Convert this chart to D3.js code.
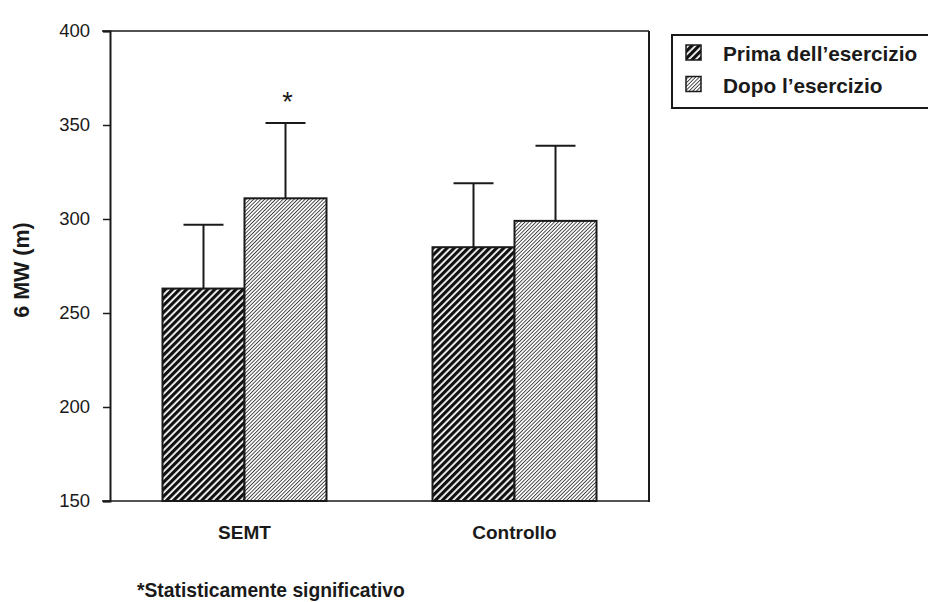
<!DOCTYPE html>
<html>
<head>
<meta charset="utf-8">
<script src="https://cdn.jsdelivr.net/npm/d3@7"></script>
<style>
  body { margin: 0; background: #fff; }
  svg { display: block; font-family: "Liberation Sans", Arial, Helvetica, sans-serif; }
</style>
</head>
<body>
<svg id="chart" width="928" height="602"></svg>
<script>
// values
var categories = ["SEMT", "Controllo"];
var series = ["Prima dell\u2019esercizio", "Dopo l\u2019esercizio"];
var prima = [263, 285];
var primaErr = [34, 34];
var dopo = [311, 299];
var dopoErr = [40, 40];
var dopoSignificant = [true, false];
var yTicks = [150, 200, 250, 300, 350, 400];
var footnote = "*Statisticamente significativo";
var yTitle = "6 MW (m)";

var svg = d3.select("#chart");
var ink = "#1a1a1a";

var plot = {left: 110, right: 649, top: 31, bottom: 501};

var y = d3.scaleLinear().domain([150, 400]).range([plot.bottom, plot.top]);
var x0 = d3.scaleBand().domain(categories).range([plot.left, plot.right])
    .paddingInner(0.3926).paddingOuter(0.1944);
var x1 = d3.scaleBand().domain(series).range([0, x0.bandwidth()]);

// hatch patterns
var defs = svg.append("defs");
var pDark = defs.append("pattern")
    .attr("id", "hatch-dark")
    .attr("patternUnits", "userSpaceOnUse")
    .attr("width", 5).attr("height", 5)
    .attr("patternTransform", "rotate(45)");
pDark.append("rect").attr("width", 5).attr("height", 5).attr("fill", "#fff");
pDark.append("rect").attr("width", 3.2).attr("height", 5).attr("fill", "#111");

var pLight = defs.append("pattern")
    .attr("id", "hatch-light")
    .attr("patternUnits", "userSpaceOnUse")
    .attr("width", 2.6).attr("height", 2.6)
    .attr("patternTransform", "rotate(45)");
pLight.append("rect").attr("width", 2.6).attr("height", 2.6).attr("fill", "#fff");
pLight.append("rect").attr("width", 0.9).attr("height", 2.6).attr("fill", "#3a3a3a");

var fills = ["url(#hatch-dark)", "url(#hatch-light)"];

var rows = categories.map(function(c, i) {
    return [
        {cat: c, s: series[0], v: prima[i], e: primaErr[i], sig: false, k: 0},
        {cat: c, s: series[1], v: dopo[i], e: dopoErr[i], sig: dopoSignificant[i], k: 1}
    ];
});
var bars = [].concat.apply([], rows);

// error bars (upward only)
var err = svg.append("g").attr("stroke", ink).attr("stroke-width", 2);
bars.forEach(function(d) {
    var cx = x0(d.cat) + x1(d.s) + x1.bandwidth() / 2;
    err.append("line")
        .attr("x1", cx).attr("x2", cx)
        .attr("y1", y(d.v)).attr("y2", y(d.v + d.e));
    err.append("line")
        .attr("x1", cx - 20).attr("x2", cx + 20)
        .attr("y1", y(d.v + d.e)).attr("y2", y(d.v + d.e));
    if (d.sig) {
        svg.append("text")
            .attr("x", cx + 2).attr("y", y(d.v + d.e) - 12)
            .attr("text-anchor", "middle")
            .attr("font-size", 27)
            .attr("fill", ink)
            .text("*");
    }
});

// bars
svg.append("g").selectAll("rect")
    .data(bars)
    .enter().append("rect")
        .attr("x", function(d) { return x0(d.cat) + x1(d.s); })
        .attr("y", function(d) { return y(d.v); })
        .attr("width", x1.bandwidth())
        .attr("height", function(d) { return y(150) - y(d.v); })
        .attr("fill", function(d) { return fills[d.k]; })
        .attr("stroke", ink)
        .attr("stroke-width", 2);

// frame
var frame = svg.append("g").attr("fill", "none").attr("stroke", ink);
frame.append("line").attr("x1", plot.left - 8).attr("x2", plot.right).attr("y1", plot.top).attr("y2", plot.top).attr("stroke-width", 1.5);
frame.append("line").attr("x1", plot.left - 8).attr("x2", plot.right).attr("y1", plot.bottom).attr("y2", plot.bottom).attr("stroke-width", 1.5);
frame.append("line").attr("x1", plot.right).attr("x2", plot.right).attr("y1", plot.top).attr("y2", plot.bottom + 1).attr("stroke-width", 2);

// y axis
var yAxis = svg.append("g")
    .attr("transform", "translate(" + plot.left + ",0)")
    .call(d3.axisLeft(y).tickValues(yTicks).tickSize(7).tickPadding(13));
yAxis.select(".domain").attr("stroke", ink).attr("stroke-width", 2);
yAxis.selectAll(".tick line").attr("stroke", ink).attr("stroke-width", 1.5);
yAxis.selectAll(".tick text")
    .attr("font-size", 18.5)
    .attr("fill", ink)
    .attr("font-family", "\"Liberation Sans\", Arial, sans-serif");

svg.append("text")
    .attr("transform", "translate(29,270) rotate(-90)")
    .attr("text-anchor", "middle")
    .attr("font-size", 21.5)
    .attr("font-weight", "bold")
    .attr("fill", ink)
    .text(yTitle);

// x labels
svg.append("g").selectAll("text")
    .data(categories)
    .enter().append("text")
        .attr("x", function(d) { return x0(d) + x0.bandwidth() / 2; })
        .attr("y", 539)
        .attr("text-anchor", "middle")
        .attr("font-size", 19)
        .attr("font-weight", "bold")
        .attr("fill", ink)
        .text(function(d) { return d; });

// legend
var legend = svg.append("g");
legend.append("rect")
    .attr("x", 672).attr("y", 35)
    .attr("width", 300).attr("height", 73)
    .attr("fill", "#fff").attr("stroke", ink).attr("stroke-width", 2);
series.forEach(function(s, i) {
    var ly = 45 + i * 31.5;
    legend.append("rect")
        .attr("x", 686).attr("y", ly)
        .attr("width", 15).attr("height", 15)
        .attr("fill", fills[i])
        .attr("stroke", ink).attr("stroke-width", 1.5);
    legend.append("text")
        .attr("x", 723).attr("y", ly + 16)
        .attr("font-size", 20.8)
        .attr("font-weight", "bold")
        .attr("fill", ink)
        .text(s);
});

// footnote
svg.append("text")
    .attr("x", 137).attr("y", 597)
    .attr("font-size", 19.3)
    .attr("font-weight", "bold")
    .attr("fill", ink)
    .text(footnote);
</script>
</body>
</html>
